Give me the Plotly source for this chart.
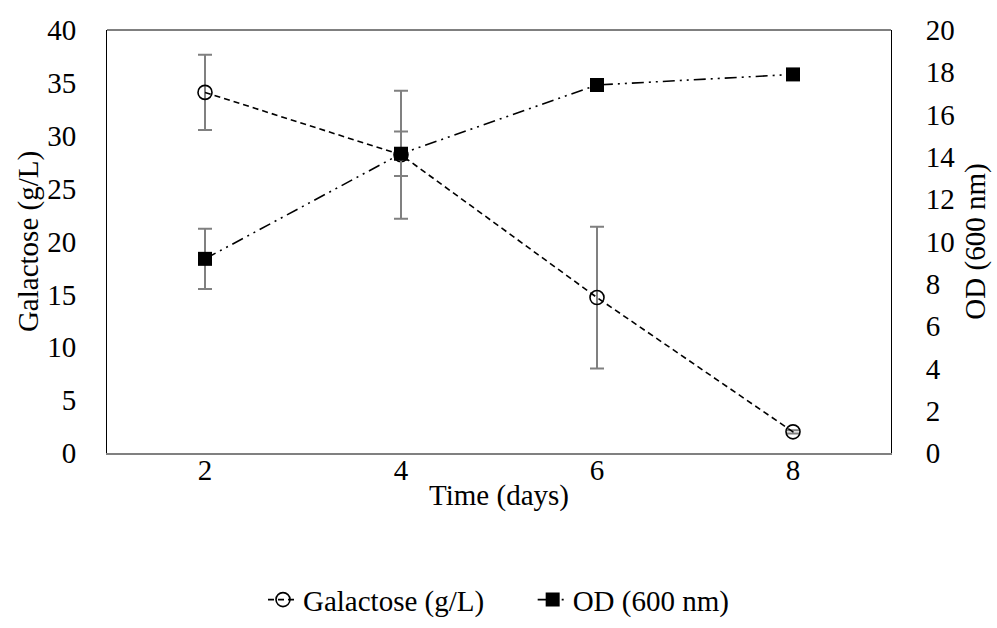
import plotly.graph_objects as go

days = [2, 4, 6, 8]
galactose = [34.1, 28.2, 14.7, 2.0]
galactose_err = [3.55, 6.05, 6.7, 0.15]
od = [9.18, 14.15, 17.4, 17.9]
od_err = [1.42, 1.05, 0.2, 0.2]

left_ticks = [0, 5, 10, 15, 20, 25, 30, 35, 40]
right_ticks = [0, 2, 4, 6, 8, 10, 12, 14, 16, 18, 20]

FONT = "Liberation Serif, Times New Roman, serif"
FS = 29
TICKFONT = dict(family=FONT, size=FS, color="black")
TITLEFONT = dict(family=FONT, size=FS, color="black")

fig = go.Figure()
fig.add_trace(go.Scatter(
    x=days, y=galactose, name="Galactose (g/L)\u00a0\u00a0\u00a0\u00a0\u00a0\u00a0", mode="lines+markers",
    line=dict(color="black", width=1.6, dash="6px,4px"),
    marker=dict(symbol="circle-open", size=14, color="black", line=dict(width=1.6)),
    error_y=dict(type="data", array=galactose_err, color="#808080", thickness=2, width=7),
))
fig.add_trace(go.Scatter(
    x=days, y=od, name="OD (600 nm)", mode="lines+markers", yaxis="y2",
    line=dict(color="black", width=1.6, dash="12px,5px,2px,5px,2px,5px"),
    marker=dict(symbol="square", size=14, color="black"),
    error_y=dict(type="data", array=od_err, color="#808080", thickness=2, width=7),
))

fig.update_layout(
    template="none",
    width=997, height=628,
    margin=dict(l=107, r=106, t=30, b=175, autoexpand=False),
    paper_bgcolor="white", plot_bgcolor="white",
    font=dict(family=FONT, size=FS, color="black"),
    xaxis=dict(
        range=[1, 9], tickvals=days, ticktext=[str(d) for d in days], automargin=False,
        showgrid=False, zeroline=False, showline=True, linecolor="#808080", linewidth=2,
        ticks="", ticklen=0, ticklabelstandoff=-10, tickfont=TICKFONT,
        title=dict(text="Time (days)", standoff=0, font=TITLEFONT),
        mirror=False,
    ),
    yaxis=dict(
        range=[0, 40], tickvals=left_ticks, showgrid=False, zeroline=False, automargin=False,
        showline=True, linecolor="black", linewidth=1, ticks="", ticklen=0,
        ticklabelstandoff=24, tickfont=TICKFONT,
        title=dict(text="Galactose (g/L)", standoff=0, font=TITLEFONT),
    ),
    yaxis2=dict(
        range=[0, 20], tickvals=right_ticks, overlaying="y", side="right", automargin=False,
        showgrid=False, zeroline=False, showline=True, linecolor="black", linewidth=1,
        ticks="", ticklen=0, ticklabelstandoff=28, tickfont=TICKFONT,
        title=dict(text="OD (600 nm)", standoff=10, font=TITLEFONT),
    ),
    legend=dict(
        orientation="h", xref="container", yref="container",
        x=0.5, xanchor="center", y=0.045, yanchor="middle",
        font=dict(family=FONT, size=FS, color="black"), bgcolor="rgba(0,0,0,0)",
    ),
    showlegend=True,
)
fig.add_shape(type="line", xref="paper", yref="paper", x0=0, x1=1, y0=1, y1=1,
              line=dict(color="black", width=1))

fig.write_html("out.html")
